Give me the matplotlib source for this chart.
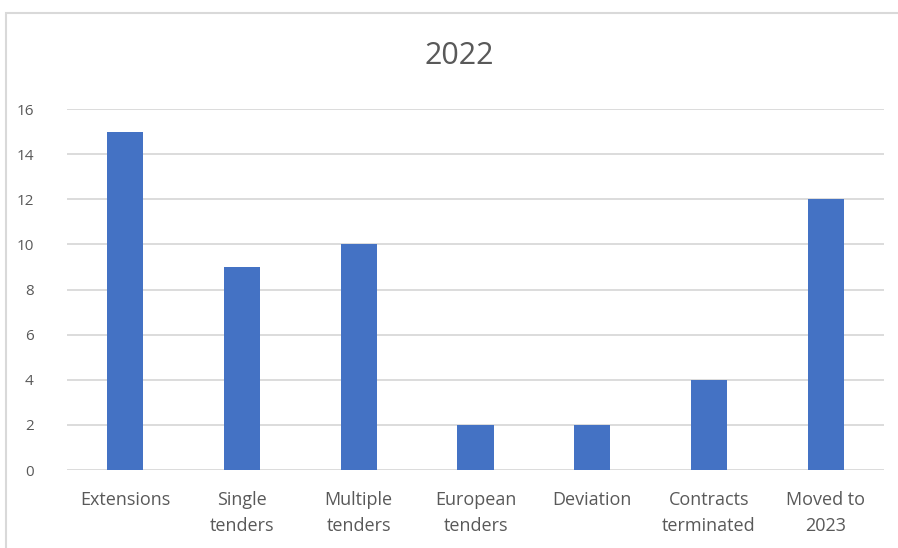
import matplotlib
matplotlib.use("Agg")
import matplotlib.pyplot as plt
from matplotlib.patches import Rectangle

categories = ["Extensions", "Single\ntenders", "Multiple\ntenders", "European\ntenders",
              "Deviation", "Contracts\nterminated", "Moved to\n2023"]
values = [15, 9, 10, 2, 2, 4, 12]
yticks = [0, 2, 4, 6, 8, 10, 12, 14, 16]
title = "2022"

plt.rcParams['font.family'] = ['Open Sans', 'DejaVu Sans']

W, H = 898, 548
fig = plt.figure(figsize=(W / 100, H / 100), dpi=100)
fig.patch.set_facecolor("white")

# chart border
fig.patches.append(Rectangle((5.5 / W, -0.1), 1.2, 1.1 - 13.5 / H, transform=fig.transFigure,
                             fill=False, edgecolor="#d9d9d9", linewidth=1.5, zorder=0))

ax = fig.add_axes([67 / W, 1 - 470 / H, (884 - 67) / W, (470 - 109) / H])
x = list(range(len(categories)))
ax.bar(x, values, width=0.31, color="#4472C4", zorder=3)
ax.set_xlim(-0.5, len(categories) - 0.5)
ax.set_ylim(0, 16)
ax.set_yticks(yticks)
ax.set_xticks(x)
ax.set_xticklabels(categories, linespacing=1.55)
ax.tick_params(axis="both", length=0, colors="#595959", labelsize=11)
ax.tick_params(axis="x", pad=15, labelsize=13)
ax.tick_params(axis="y", pad=24)
for lab in ax.get_yticklabels():
    lab.set_horizontalalignment("right")
ax.grid(axis="y", color="#d9d9d9", linewidth=1.3, zorder=0)
for s in ax.spines.values():
    s.set_visible(False)

fig.text(459 / W, 1 - 56 / H, title, ha="center", va="center", fontsize=22, color="#595959")

fig.savefig("out.png", dpi=100, facecolor="white")
